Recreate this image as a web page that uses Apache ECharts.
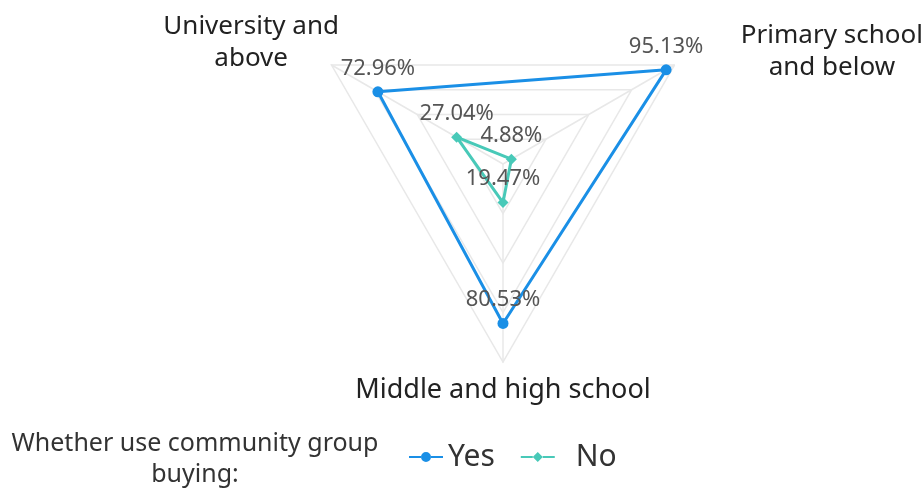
<!DOCTYPE html>
<html>
<head>
<meta charset="utf-8">
<script src="https://cdn.jsdelivr.net/npm/echarts@6/dist/echarts.min.js"></script>
<style>
  html, body { margin: 0; padding: 0; background: #fff; }
  #chart { width: 923px; height: 488px; }
</style>
</head>
<body>
<div id="chart"></div>
<script>
// education levels (radar indicators, counter-clockwise from top-right)
const levels = ['Primary school\nand below', 'University and\nabove', 'Middle and high school'];
const maxValue = 100;

// share of respondents (%)
const yesValues = [95.13, 72.96, 80.53];
const noValues = [4.88, 27.04, 19.47];

const legendTitle = 'Whether use community group\nbuying:';

// legend icons: short line with the marker in the middle
const circleIcon = 'path://M0,9L12,9L12,11L0,11Z M22,9L34,9L34,11L22,11Z M12,10A5,5 0 1,1 22,10A5,5 0 1,1 12,10Z';
const diamondIcon = 'path://M0,9L12,9L12,11L0,11Z M22,9L34,9L34,11L22,11Z M12,10L17,5L22,10L17,15Z';

// name box style per indicator (shifts the axis names like the original)
const nameStyle = ['tr', 'tl', 'bt'];

const chart = echarts.init(document.getElementById('chart'));

const nameFont = { fontFamily: 'Noto Sans', fontSize: 26, lineHeight: 32, color: '#222' };

const option = {
  backgroundColor: '#fff',
  animation: false,
  title: {
    text: legendTitle,
    left: 190,
    top: 423,
    textAlign: 'center',
    textStyle: {
      fontFamily: 'Noto Sans',
      fontWeight: 'normal',
      fontSize: 25,
      lineHeight: 31,
      color: '#333'
    }
  },
  legend: {
    left: 404,
    top: 437,
    itemWidth: 34,
    itemHeight: 11,
    itemGap: 26,
    textStyle: {
      fontFamily: 'Noto Sans',
      fontSize: 30,
      color: '#333'
    },
    data: [
      { name: 'Yes', icon: circleIcon },
      { name: 'No', icon: diamondIcon, textStyle: { padding: [0, 0, 0, 16] } }
    ]
  },
  radar: {
    center: [503, 164],
    radius: 198,
    startAngle: 30,
    shape: 'polygon',
    splitNumber: 4,
    indicator: levels.map(name => ({ name: name, max: maxValue })),
    axisName: {
      align: 'center',
      formatter: function (name) {
        const key = nameStyle[levels.indexOf(name)];
        const lines = name.split('\n').map(l => '{' + key + '|' + l + '}');
        if (key !== 'bt') lines.push('{' + key + 'Gap| }');
        return lines.join('\n');
      },
      rich: {
        tr: Object.assign({ padding: [0, 0, 0, 294] }, nameFont),
        trGap: { fontSize: 4, lineHeight: 14 },
        tl: Object.assign({ padding: [0, 140, 0, 0] }, nameFont),
        tlGap: { fontSize: 4, lineHeight: 32 },
        bt: Object.assign({}, nameFont, { fontSize: 27 })
      }
    },
    nameGap: 12,
    splitArea: { show: false },
    splitLine: { lineStyle: { color: '#e8e8e8', width: 1.5 } },
    axisLine: { lineStyle: { color: '#e8e8e8', width: 1.5 } }
  },
  series: [{
    type: 'radar',
    label: {
      show: true,
      position: 'top',
      distance: 7,
      fontFamily: 'Noto Sans',
      fontSize: 22,
      color: '#555',
      formatter: p => p.value.toFixed(2) + '%'
    },
    data: [{
      name: 'Yes',
      value: yesValues,
      symbol: 'circle',
      symbolSize: 11,
      lineStyle: { width: 3, color: '#1a8fe6' },
      itemStyle: { color: '#1a8fe6' }
    }, {
      name: 'No',
      value: noValues,
      symbol: 'diamond',
      symbolSize: 11,
      lineStyle: { width: 3, color: '#48c9b8' },
      itemStyle: { color: '#48c9b8' }
    }]
  }]
};

chart.setOption(option);
</script>
</body>
</html>
